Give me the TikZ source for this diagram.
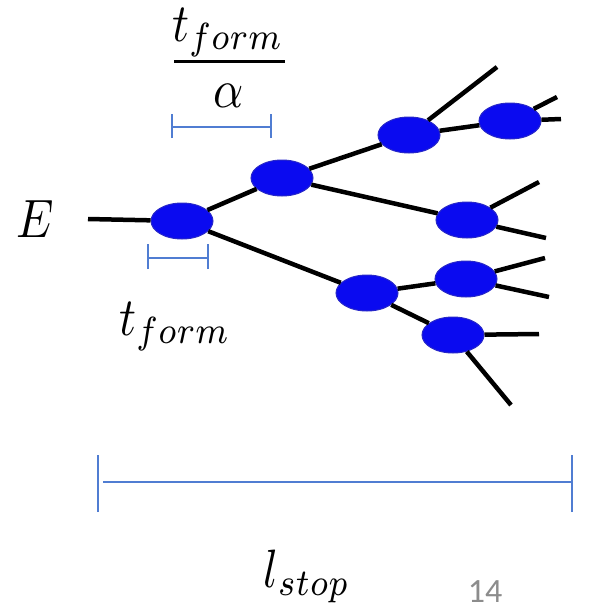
\documentclass[tikz,border=0pt]{standalone}
\usepackage{fontspec}
\newfontfamily\carlito{Carlito}
\usetikzlibrary{shapes.geometric}
\definecolor{nodeblue}{RGB}{10,10,240}
\definecolor{nodeedge}{RGB}{40,40,200}
\definecolor{barblue}{RGB}{80,125,210}
\definecolor{pagegray}{RGB}{140,140,140}
\tikzset{
  particle/.style={ellipse, fill=nodeblue, draw=nodeedge, line width=1pt, minimum width=62pt, minimum height=36pt, inner sep=0pt},
  branch/.style={line width=4.5pt, black},
  measure/.style={line width=1.6pt, barblue},
  label/.style={inner sep=0pt, xscale=4.7, yscale=5.4, transform shape}
}
\begin{document}
\begin{tikzpicture}[x=1pt,y=-1pt]
\useasboundingbox (0,0) rectangle (593,613);
% particles
\node[particle] (a) at (182,221) {};
\node[particle] (b) at (282,178) {};
\node[particle] (c) at (409,135) {};
\node[particle] (d) at (510,121) {};
\node[particle] (e) at (467,220) {};
\node[particle] (f) at (367,293) {};
\node[particle] (g) at (466,279) {};
\node[particle] (h) at (453,335) {};
% free ends
\coordinate (in) at (88,219);
\coordinate (c1) at (497,67);
\coordinate (d1) at (557,97);
\coordinate (d2) at (561,119);
\coordinate (e1) at (539,182);
\coordinate (e2) at (546,238);
\coordinate (g1) at (545,258);
\coordinate (g2) at (549,297);
\coordinate (h1) at (539,334);
\coordinate (h2) at (511,405);
% branches
\draw[branch] (in) -- (a);
\draw[branch] (a) -- (b);
\draw[branch] (a) -- (f);
\draw[branch] (b) -- (c);
\draw[branch] (b) -- (e);
\draw[branch] (c) -- (d);
\draw[branch] (c) -- (c1);
\draw[branch] (d) -- (d1);
\draw[branch] (d) -- (d2);
\draw[branch] (e) -- (e1);
\draw[branch] (e) -- (e2);
\draw[branch] (f) -- (g);
\draw[branch] (f) -- (h);
\draw[branch] (g) -- (g1);
\draw[branch] (g) -- (g2);
\draw[branch] (h) -- (h1);
\draw[branch] (h) -- (h2);
% measure bars
\coordinate (m1l) at (172,127); \coordinate (m1r) at (271,127);
\draw[measure] (m1l) -- (m1r);
\draw[measure] ([yshift=-11pt]m1l) -- ([yshift=13pt]m1l);
\draw[measure] ([yshift=-11pt]m1r) -- ([yshift=13pt]m1r);
\coordinate (m2l) at (148,258); \coordinate (m2r) at (208,258);
\draw[measure] (m2l) -- (m2r);
\draw[measure] ([yshift=-11pt]m2l) -- ([yshift=14pt]m2l);
\draw[measure] ([yshift=-11pt]m2r) -- ([yshift=14pt]m2r);
\coordinate (m3l) at (98,482); \coordinate (m3r) at (572,482);
\draw[measure] ([xshift=5pt]m3l) -- (m3r);
\draw[measure] ([yshift=-30pt]m3l) -- ([yshift=27pt]m3l);
\draw[measure] ([yshift=-30pt]m3r) -- ([yshift=27pt]m3r);
% labels
\node[label] (lE) at (35,219) {$E$};
\node[label, anchor=base] (lnum) at (228,41) {$t_{form}$};
\coordinate (barl) at (174,61); \coordinate (barr) at (285,61);
\draw[line width=3pt] (barl) -- (barr);
\node[label, anchor=base] (lden) at (229,107) {$\alpha$};
\node[label, anchor=base] (ltf) at (175,335) {$t_{form}$};
\node[label, anchor=base] (lstop) at (307,587) {$l_{stop}$};
\node[inner sep=0pt, anchor=base, scale=3.4, transform shape, font=\carlito, text=pagegray] (page) at (485,602) {14};
\end{tikzpicture}
\end{document}
